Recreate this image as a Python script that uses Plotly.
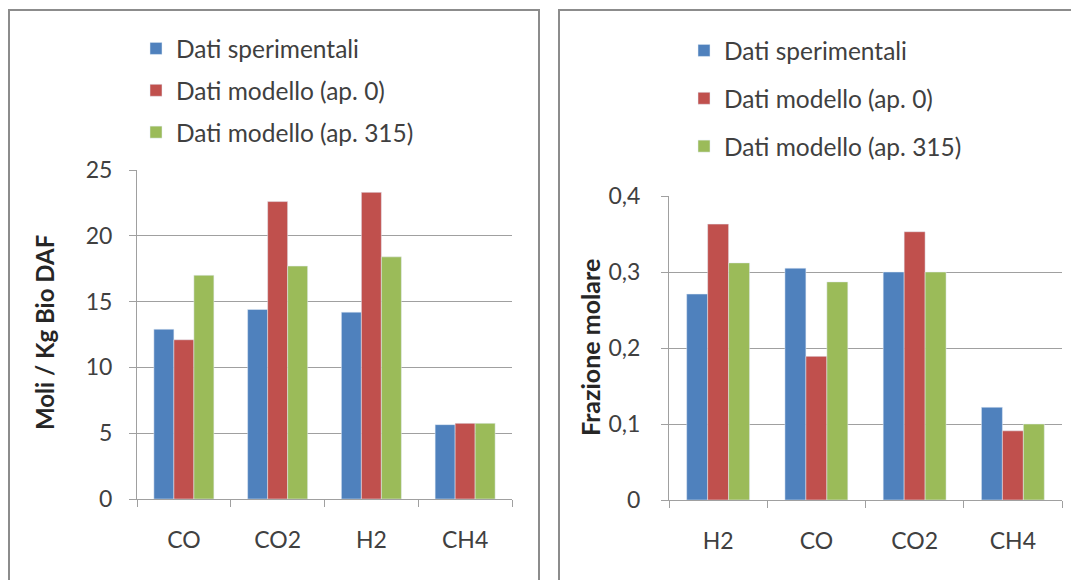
import plotly.graph_objects as go

# left chart: moles per kg of biomass (DAF)
cat_left = ["CO", "CO2", "H2", "CH4"]
sper_left = [12.9, 14.4, 14.2, 5.65]
mod0_left = [12.1, 22.6, 23.3, 5.75]
mod315_left = [17.0, 17.7, 18.4, 5.75]

# right chart: molar fraction
cat_right = ["H2", "CO", "CO2", "CH4"]
sper_right = [0.271, 0.305, 0.300, 0.122]
mod0_right = [0.363, 0.189, 0.353, 0.091]
mod315_right = [0.312, 0.287, 0.300, 0.100]

names = ["Dati sperimentali", "Dati modello (ap. 0)", "Dati modello (ap. 315)"]
colors = ["#4F81BD", "#C0504D", "#9BBB59"]

FONT = "Lato"
TXT = "#404040"
GRID = "#a0a0a0"
W, H = 1079, 580
OFF = 8  # page body margin

fig = go.Figure()
for name, vals, col in zip(names, [sper_left, mod0_left, mod315_left], colors):
    fig.add_trace(go.Bar(x=cat_left, y=vals, name=name, marker_color=col,
                         xaxis="x", yaxis="y", legend="legend",
                         legendgroup="l" + name))
for name, vals, col in zip(names, [sper_right, mod0_right, mod315_right], colors):
    fig.add_trace(go.Bar(x=cat_right, y=vals, name=name, marker_color=col,
                         xaxis="x2", yaxis="y2", legend="legend2",
                         legendgroup="r" + name))


def px_x(p):
    return (p - OFF) / W


def px_y(p):
    return 1 - (p - OFF) / H


axis_common = dict(showline=True, linecolor=GRID, linewidth=1,
                   tickfont=dict(family=FONT, size=23, color=TXT),
                   ticks="outside", tickcolor=GRID, ticklen=7,
                   automargin=False)

fig.update_layout(
    width=W, height=H,
    margin=dict(l=0, r=0, t=0, b=0, autoexpand=False),
    paper_bgcolor="white", plot_bgcolor="white",
    barmode="group", bargap=0.36, bargroupgap=0,
    font=dict(family=FONT, color=TXT),
    xaxis=dict(domain=[px_x(137), px_x(512)], anchor="y",
               tickson="boundaries", ticklabelstandoff=20, **axis_common),
    yaxis=dict(domain=[px_y(499), px_y(170)], anchor="x", range=[0, 25],
               dtick=5, showgrid=True, gridcolor=GRID, zeroline=False,
               ticklabelstandoff=12, **axis_common),
    xaxis2=dict(domain=[px_x(669), px_x(1062)], anchor="y2",
                tickson="boundaries", ticklabelstandoff=20, **axis_common),
    yaxis2=dict(domain=[px_y(500), px_y(196)], anchor="x2", range=[0, 0.4],
                tickvals=[0, 0.1, 0.2, 0.3, 0.4],
                ticktext=["0", "0,1", "0,2", "0,3", "0,4"],
                showgrid=True, gridcolor=GRID, zeroline=False,
                ticklabelstandoff=16, **axis_common),
    legend=dict(x=px_x(136), y=px_y(26), xanchor="left", yanchor="top",
                orientation="v", tracegroupgap=7, bgcolor="rgba(0,0,0,0)",
                font=dict(family=FONT, size=24.5, color=TXT)),
    legend2=dict(x=px_x(684), y=px_y(28), xanchor="left", yanchor="top",
                 orientation="v", tracegroupgap=13, bgcolor="rgba(0,0,0,0)",
                 font=dict(family=FONT, size=24.5, color=TXT)),
    annotations=[
        dict(text="<b>Moli / Kg Bio DAF</b>", x=px_x(44), y=px_y(333),
             xref="paper", yref="paper", xanchor="center", yanchor="middle",
             textangle=-90, showarrow=False,
             font=dict(family=FONT, size=24, color="#262626")),
        dict(text="<b>Frazione molare</b>", x=px_x(590), y=px_y(348),
             xref="paper", yref="paper", xanchor="center", yanchor="middle",
             textangle=-90, showarrow=False,
             font=dict(family=FONT, size=25, color="#262626")),
    ],
    shapes=[
        dict(type="rect", xref="paper", yref="paper",
             x0=px_x(9), x1=px_x(539), y0=-0.05, y1=px_y(10),
             line=dict(color="#8c8c8c", width=2)),
        dict(type="rect", xref="paper", yref="paper",
             x0=px_x(559), x1=px_x(1077), y0=-0.05, y1=px_y(10),
             line=dict(color="#8c8c8c", width=2)),
    ],
)

fig.write_html("out.html")
